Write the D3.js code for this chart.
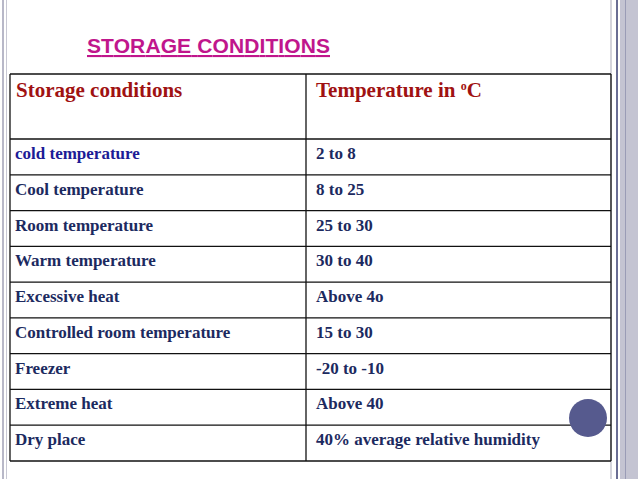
<!DOCTYPE html>
<meta charset="utf-8">
<head>
    <script src="https://cdnjs.cloudflare.com/ajax/libs/d3/7.8.5/d3.min.js"></script>
</head>
<style>
    body { margin: 0; background: #fff; }
</style>
<body>
<svg id="slide" width="638" height="479"></svg>
<script>
    var headers = ["Storage conditions", "Temperature in "];
    var conditions = ["cold temperature", "Cool temperature", "Room temperature", "Warm temperature",
        "Excessive heat", "Controlled room temperature", "Freezer", "Extreme heat", "Dry place"];
    var temperatures = ["2 to 8", "8 to 25", "25 to 30", "30 to 40", "Above 4o", "15 to 30",
        "-20 to -10", "Above 40", "40% average relative humidity"];

    var svg = d3.select("#slide");

    // slide frame decorations
    svg.append("rect").attr("x", 2).attr("y", 0).attr("width", 2).attr("height", 479).attr("fill", "#b8b8c8");
    svg.append("rect").attr("x", 6).attr("y", 0).attr("width", 1).attr("height", 479).attr("fill", "#c8c8d4");
    svg.append("rect").attr("x", 610).attr("y", 0).attr("width", 2).attr("height", 479).attr("fill", "#d4d4dc");
    svg.append("rect").attr("x", 616).attr("y", 0).attr("width", 2).attr("height", 479).attr("fill", "#6a6e94");
    svg.append("rect").attr("x", 620).attr("y", 0).attr("width", 18).attr("height", 479).attr("fill", "#c4c4d2");
    svg.append("rect").attr("x", 625).attr("y", 0).attr("width", 1).attr("height", 479).attr("fill", "#9a9cb6");

    svg.append("text").attr("x", 87).attr("y", 53)
        .attr("font-family", "Liberation Sans, Arial").attr("font-weight", "bold").attr("font-size", 21)
        .attr("textLength", 243).attr("fill", "#c0168c").attr("text-decoration", "underline").text("STORAGE CONDITIONS");

    var left = 10, mid = 306, right = 611;
    var y = d3.scaleBand().domain(d3.range(conditions.length)).range([139, 461]);
    var headTop = 74;

    var g = svg.append("g").attr("stroke", "#111").attr("stroke-width", 1.3);
    g.append("line").attr("x1", left).attr("x2", right).attr("y1", headTop).attr("y2", headTop);
    conditions.forEach(function (d, i) {
        g.append("line").attr("x1", left).attr("x2", right).attr("y1", y(i)).attr("y2", y(i));
    });
    g.append("line").attr("x1", left).attr("x2", right).attr("y1", 461).attr("y2", 461);
    [left, mid, right].forEach(function (x) {
        g.append("line").attr("x1", x).attr("x2", x).attr("y1", headTop).attr("y2", 461);
    });

    var font = "Liberation Serif, Times New Roman, serif";
    svg.append("text").attr("x", 16).attr("y", 97).attr("font-family", font).attr("font-weight", "bold")
        .attr("font-size", 21).attr("fill", "#a01212").text(headers[0]);
    var h2 = svg.append("text").attr("x", 316).attr("y", 97).attr("font-family", font).attr("font-weight", "bold")
        .attr("font-size", 21).attr("fill", "#a01212").text(headers[1]);
    h2.append("tspan").attr("font-size", 12).attr("dy", -7).text("o");
    h2.append("tspan").attr("dy", 7).text("C");

    svg.selectAll("text.c").data(conditions).enter().append("text")
        .attr("x", 15).attr("y", function (d, i) { return y(i) + 20; })
        .attr("font-family", font).attr("font-weight", "bold").attr("font-size", 17)
        .attr("fill", function (d, i) { return i === 0 ? "#1c1c96" : "#1c2a60"; }).text(function (d) { return d; });
    svg.selectAll("text.t").data(temperatures).enter().append("text")
        .attr("x", 316).attr("y", function (d, i) { return y(i) + 20; })
        .attr("font-family", font).attr("font-weight", "bold").attr("font-size", 17)
        .attr("fill", "#1c2a60").text(function (d) { return d; });

    svg.append("circle").attr("cx", 588).attr("cy", 418).attr("r", 19).attr("fill", "#565a8e");
</script>
</body>
